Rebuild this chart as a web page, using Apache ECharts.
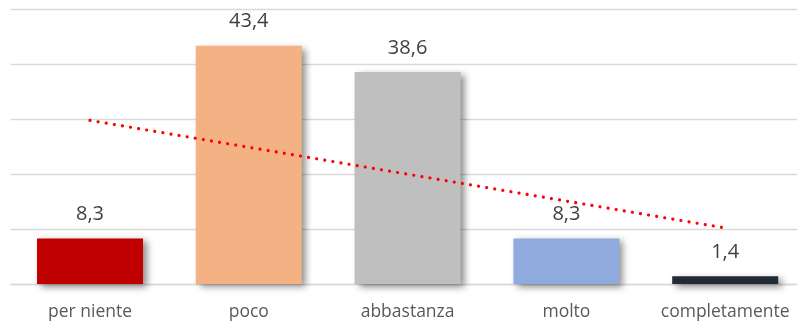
<!DOCTYPE html>
<html>
<head>
<meta charset="utf-8">
<script src="https://cdn.jsdelivr.net/npm/echarts@6/dist/echarts.min.js"></script>
<style>
  html, body { margin: 0; padding: 0; background: #fff; overflow: hidden; }
  #wrap { width: 797px; height: 323px; overflow: hidden; }
  #chart { width: 806px; height: 323px; }
</style>
</head>
<body>
<div id="wrap"><div id="chart"></div></div>
<script>
// Response categories and percentages
var categories = ['per niente', 'poco', 'abbastanza', 'molto', 'completamente'];
var values = [8.3, 43.4, 38.6, 8.3, 1.4];
var barColors = ['#C00000', '#F4B183', '#BFBFBF', '#8FAADC', '#222A35'];
// Linear trend endpoints (first and last category)
var trendStart = 29.8;
var trendEnd = 10.2;
// Value axis ticks
var axisMin = 0, axisMax = 50, axisStep = 10;

var fmt = function (v) { return String(v).replace('.', ','); };

var chart = echarts.init(document.getElementById('chart'));
chart.setOption({
  animation: false,
  grid: { left: 10.6, width: 794, top: 9.5, bottom: 39 },
  xAxis: {
    type: 'category',
    data: categories,
    axisTick: { show: false },
    axisLine: { lineStyle: { color: '#D9D9D9', width: 1.3 } },
    axisLabel: {
      interval: 0,
      hideOverlap: false,
      color: '#595959',
      fontFamily: 'Open Sans',
      fontSize: 17.5,
      margin: 19
    }
  },
  yAxis: {
    type: 'value',
    min: axisMin, max: axisMax, interval: axisStep,
    axisLabel: { show: false },
    axisLine: { show: false },
    axisTick: { show: false },
    splitLine: { lineStyle: { color: '#D9D9D9', width: 1.3 } }
  },
  series: [
    {
      type: 'bar',
      barWidth: 106,
      data: values.map(function (v, i) {
        return {
          value: v,
          itemStyle: {
            color: barColors[i],
            shadowColor: 'rgba(0,0,0,0.45)',
            shadowBlur: 7,
            shadowOffsetX: 4,
            shadowOffsetY: 3
          }
        };
      }),
      label: {
        show: true,
        position: 'top',
        distance: 14,
        color: '#404040',
        fontFamily: 'Open Sans',
        fontSize: 20,
        formatter: function (p) { return fmt(p.value); }
      },
      z: 2
    },
    {
      type: 'line',
      data: [[0, trendStart], [4, trendEnd]],
      symbol: 'none',
      silent: true,
      lineStyle: {
        color: '#FF0000',
        width: 3.2,
        type: [0.01, 8.2],
        cap: 'round'
      },
      z: 3
    }
  ]
});
</script>
</body>
</html>
